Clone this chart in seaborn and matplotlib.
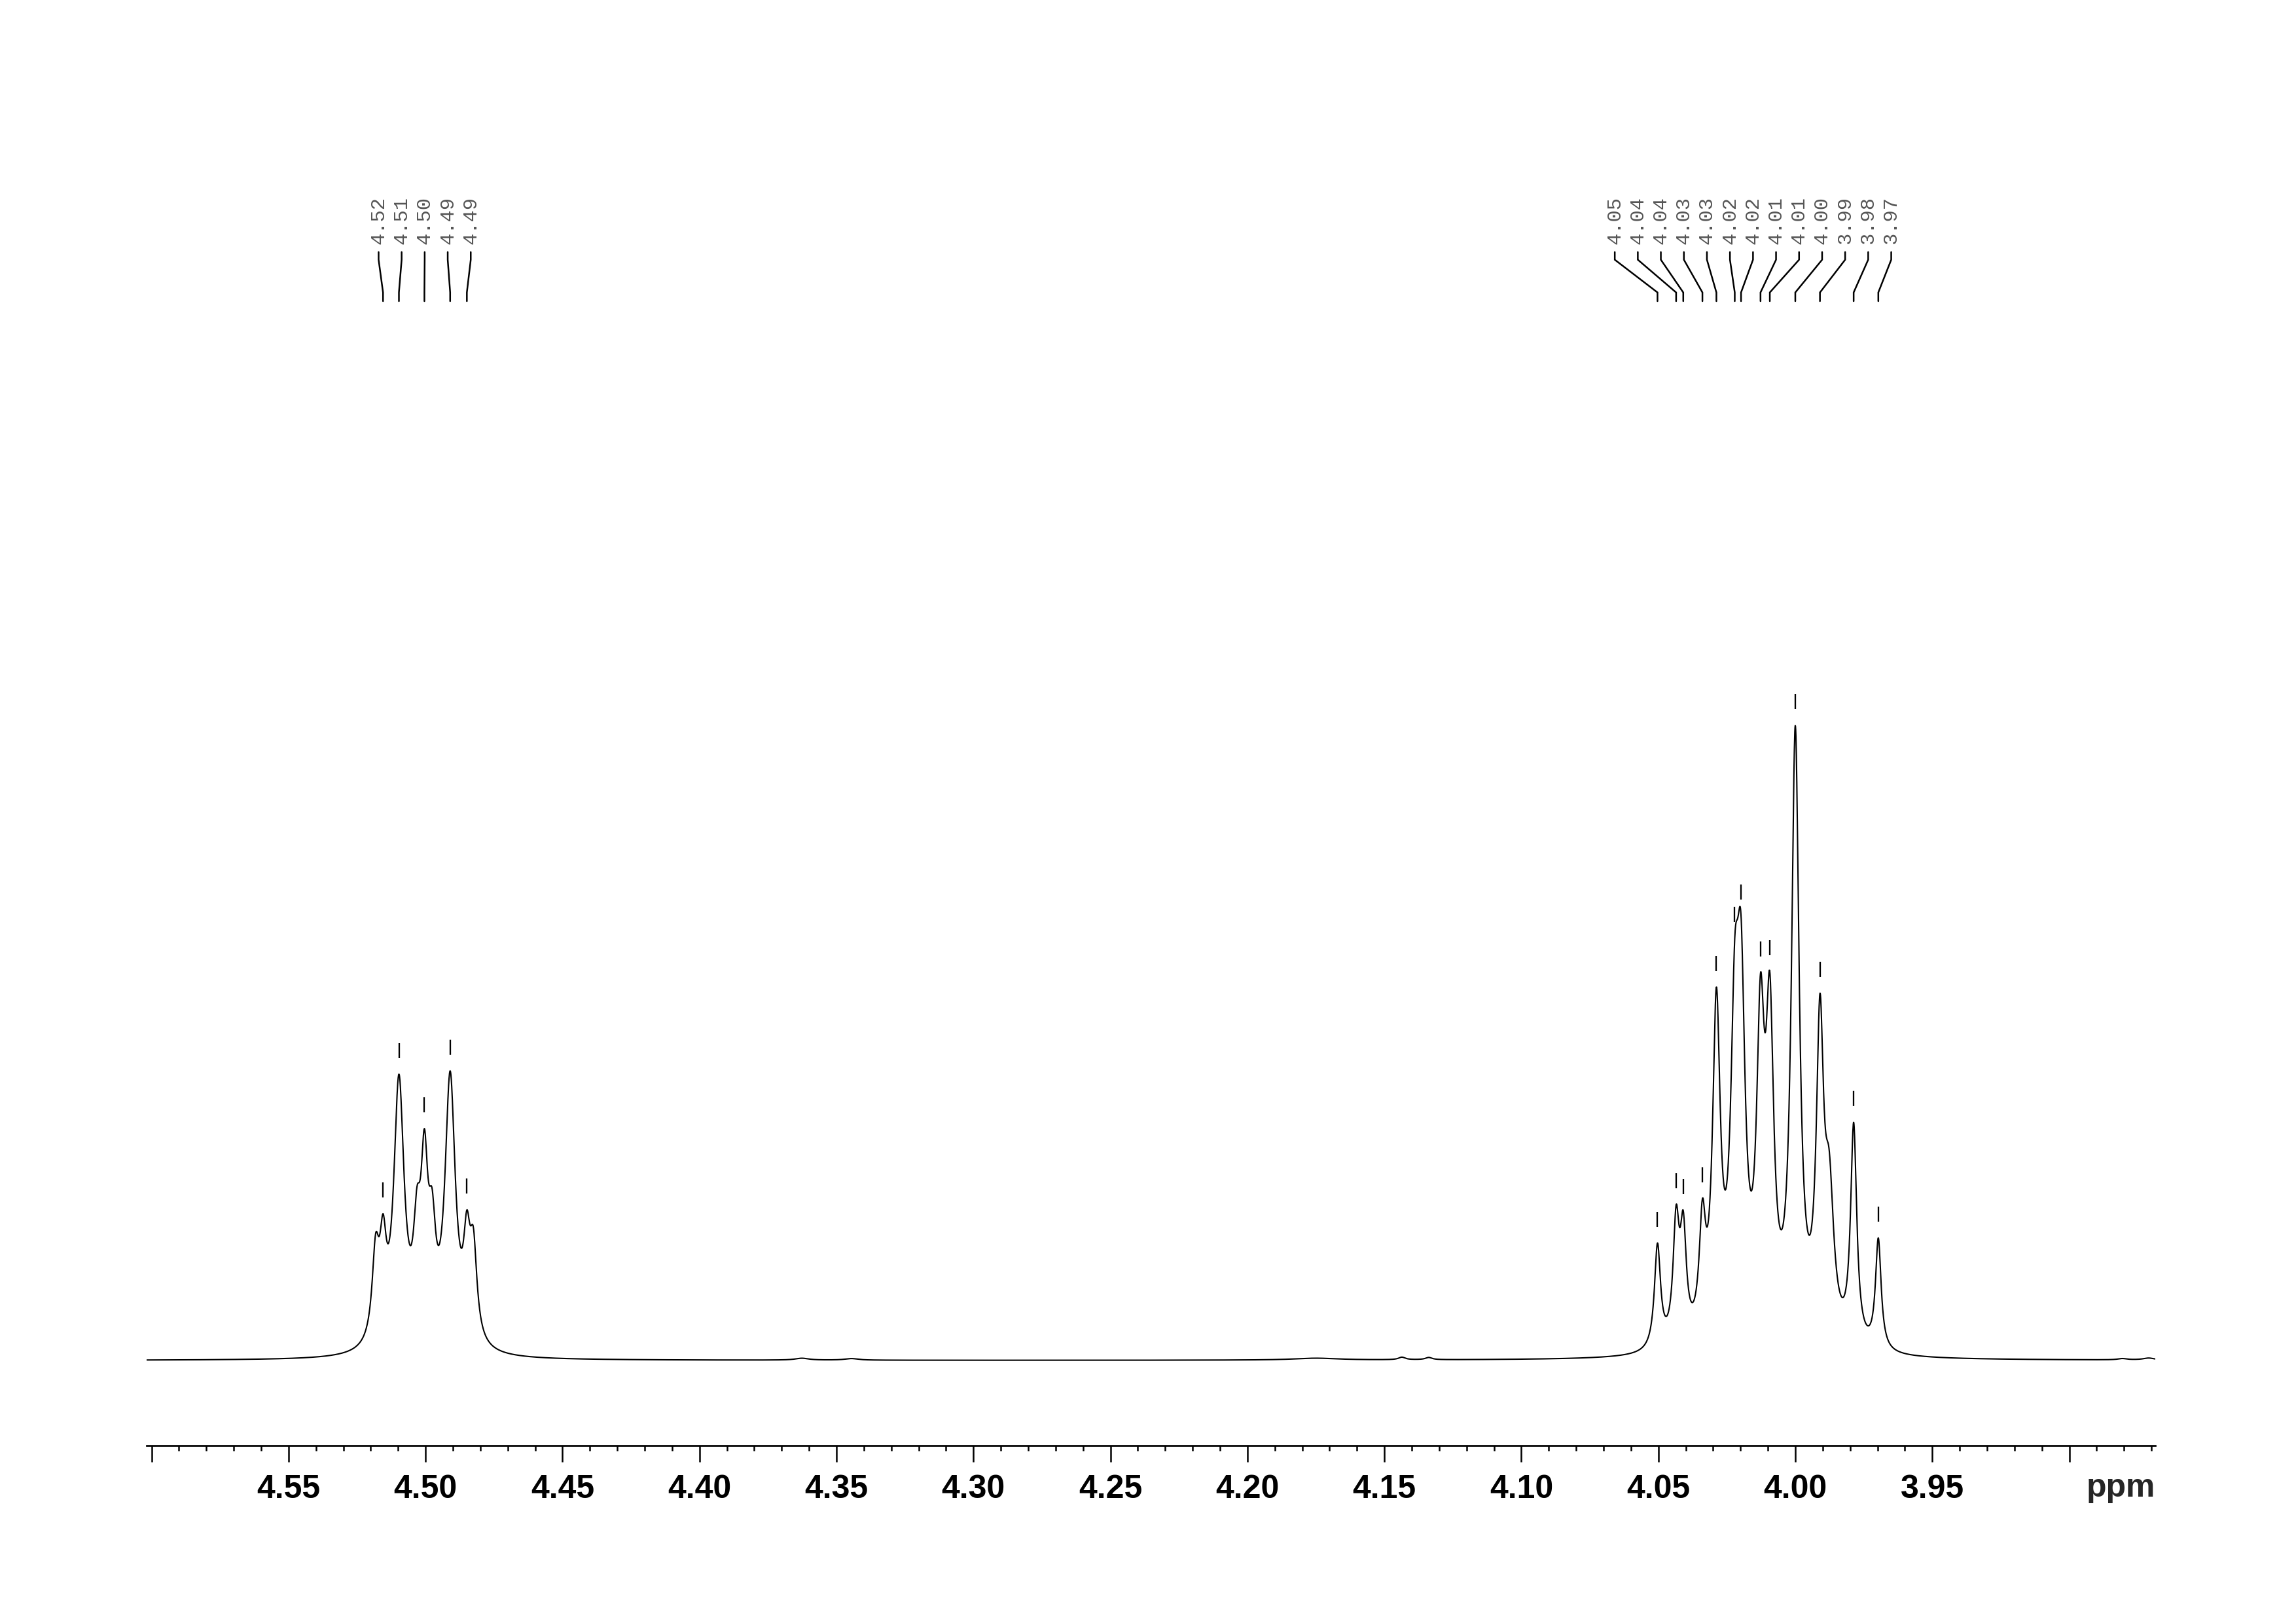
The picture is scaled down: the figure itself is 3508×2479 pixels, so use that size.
import numpy as np
import pandas as pd
import matplotlib
matplotlib.use("Agg")
import matplotlib.pyplot as plt
from matplotlib.ticker import MultipleLocator
import seaborn as sns

sns.set_theme(style="ticks", rc={"axes.edgecolor": "black", "xtick.color": "black"})
plt.rcParams["font.family"] = ["Liberation Sans", "DejaVu Sans"]

#-- visible window of the spectrum (ppm, high field on the right)
ppm_left, ppm_right = 4.6018, 3.8686

#-- lines of the 4.50 multiplet: position (ppm), height (% of tallest), line width (ppm)
h1_ppm    = [4.5182, 4.5155, 4.5097, 4.5031, 4.5004, 4.4976, 4.4910, 4.4849, 4.4825]
h1_height = [20.0, 23.1, 45.1, 27.4, 36.5, 27.1, 45.6, 23.7, 20.9]
h1_width  = [0.0031, 0.0030, 0.0046, 0.0032, 0.0031, 0.0032, 0.0046, 0.0030, 0.0031]

#-- lines of the 4.01 multiplet
h2_ppm    = [4.0503, 4.0435, 4.0409, 4.0339, 4.0288, 4.0221, 4.0198, 4.0127, 4.0093,
             4.0000, 3.9910, 3.9876, 3.9787, 3.9697]
h2_height = [18.5, 24.5, 23.6, 25.5, 58.8, 66.5, 70.0, 61.0, 61.2,
             100.0, 57.8, 33.0, 37.5, 19.3]
h2_width  = [0.0027, 0.0027, 0.0027, 0.0028, 0.0034, 0.0036, 0.0036, 0.0034, 0.0034,
             0.0034, 0.0032, 0.0040, 0.0027, 0.0025]

#-- small humps on the baseline
ripple_ppm    = [4.3626, 4.3445, 4.1750, 4.1436, 4.1338, 3.8806, 3.8710]
ripple_height = [0.30, 0.25, 0.30, 0.40, 0.35, 0.20, 0.30]
ripple_width  = [0.006, 0.006, 0.020, 0.003, 0.003, 0.004, 0.005]

#-- peak picking as printed above the spectrum
pick1_ppm   = [4.5155, 4.5097, 4.5004, 4.4910, 4.4849]
pick1_label = ["4.52", "4.51", "4.50", "4.49", "4.49"]
pick2_ppm   = [4.0503, 4.0435, 4.0409, 4.0339, 4.0288, 4.0221, 4.0198, 4.0127, 4.0093,
               4.0000, 3.9910, 3.9787, 3.9697]
pick2_label = ["4.05", "4.04", "4.04", "4.03", "4.03", "4.02", "4.02", "4.01", "4.01",
               "4.00", "3.99", "3.98", "3.97"]


def lorentz(x, x0, w):
    return 1.0 / (1.0 + (2.0 * (x - x0) / w) ** 2)


#-- line amplitudes so that the summed curve reaches the read heights
pos = np.array(h1_ppm + h2_ppm)
hgt = np.array(h1_height + h2_height, dtype=float)
wid = np.array(h1_width + h2_width)
M = lorentz(pos[:, None], pos[None, :], wid[None, :])
amp = np.linalg.solve(M, hgt)
if (amp < 0).any():
    amp = np.clip(amp, 0, None)
    step = 1.0 / np.linalg.norm(M, 2) ** 2
    for _ in range(30000):
        amp = np.clip(amp + step * M.T @ (hgt - M @ amp), 0, None)


def spectrum(x):
    x = np.asarray(x, dtype=float)
    y = np.zeros_like(x)
    for p, a, w in zip(pos, amp, wid):
        y += a * lorentz(x, p, w)
    for p, a, w in zip(ripple_ppm, ripple_height, ripple_width):
        y += a * lorentz(x, p, w)
    return y


grid = np.linspace(ppm_left, ppm_right, 9000)
df = pd.DataFrame({"ppm": grid, "intensity": spectrum(grid)})

#-- page layout (pixels of the 3508 x 2479 page)
W, H = 3508, 2479
px_per_unit = 9.7            # 100 % intensity = 970 px
base_row = 2078              # row of the zero line
axis_row = 2208              # row of the ppm axis


def row(r):
    return (base_row - r) / px_per_unit


fig = plt.figure(figsize=(W / 300, H / 300), dpi=300)
ax = fig.add_axes([224 / W, (H - axis_row) / H, (3293 - 224) / W, axis_row / H])

sns.lineplot(data=df, x="ppm", y="intensity", ax=ax, color="black",
             linewidth=0.5, sort=False, estimator=None)

ax.set_xlim(ppm_left, ppm_right)
ax.set_ylim(row(axis_row), row(0))

#-- peak markers and labels
gap, mark = 25 / px_per_unit, 23 / px_per_unit
slot_step = 35.2 / 4186      # label spacing in ppm
for picks, labels in [(pick1_ppm, pick1_label), (pick2_ppm, pick2_label)]:
    picks = np.array(picks)
    top = spectrum(picks)
    ax.vlines(picks, top + gap, top + gap + mark, color="black", linewidth=0.55)
    n = len(picks)
    slots = picks.mean() + ((n - 1) / 2 - np.arange(n)) * slot_step
    for s, p, lab in zip(slots, picks, labels):
        ax.plot([s, s, p, p], [row(385), row(396.7), row(446.7), row(460)],
                color="black", linewidth=0.6, solid_joinstyle="miter")
        ax.text(s, row(373), lab, rotation=90, ha="center", va="bottom",
                fontsize=7.3, color="#555555", family=["Liberation Mono", "DejaVu Sans Mono"])

#-- ppm axis
major = np.round(np.arange(3.90, 4.6001, 0.05), 2)
ax.set_xticks(major)
ax.set_xticklabels(["" if v in (3.90, 4.60) else f"{v:.2f}" for v in major],
                   fontweight="bold", fontsize=12)
ax.xaxis.set_minor_locator(MultipleLocator(0.01))
ax.tick_params(axis="x", which="major", direction="out", length=6, width=0.6, pad=4.5)
ax.tick_params(axis="x", which="minor", direction="out", length=1.9, width=0.6)
ax.tick_params(axis="y", left=False, labelleft=False)
ax.set_xlabel("")
ax.set_ylabel("")
sns.despine(ax=ax, left=True)
ax.spines["bottom"].set_linewidth(0.65)
ax.text(1.0, -65 / axis_row, "ppm", transform=ax.transAxes, ha="right", va="center",
        fontweight="bold", fontsize=12)

fig.savefig("out.png", dpi=300)
